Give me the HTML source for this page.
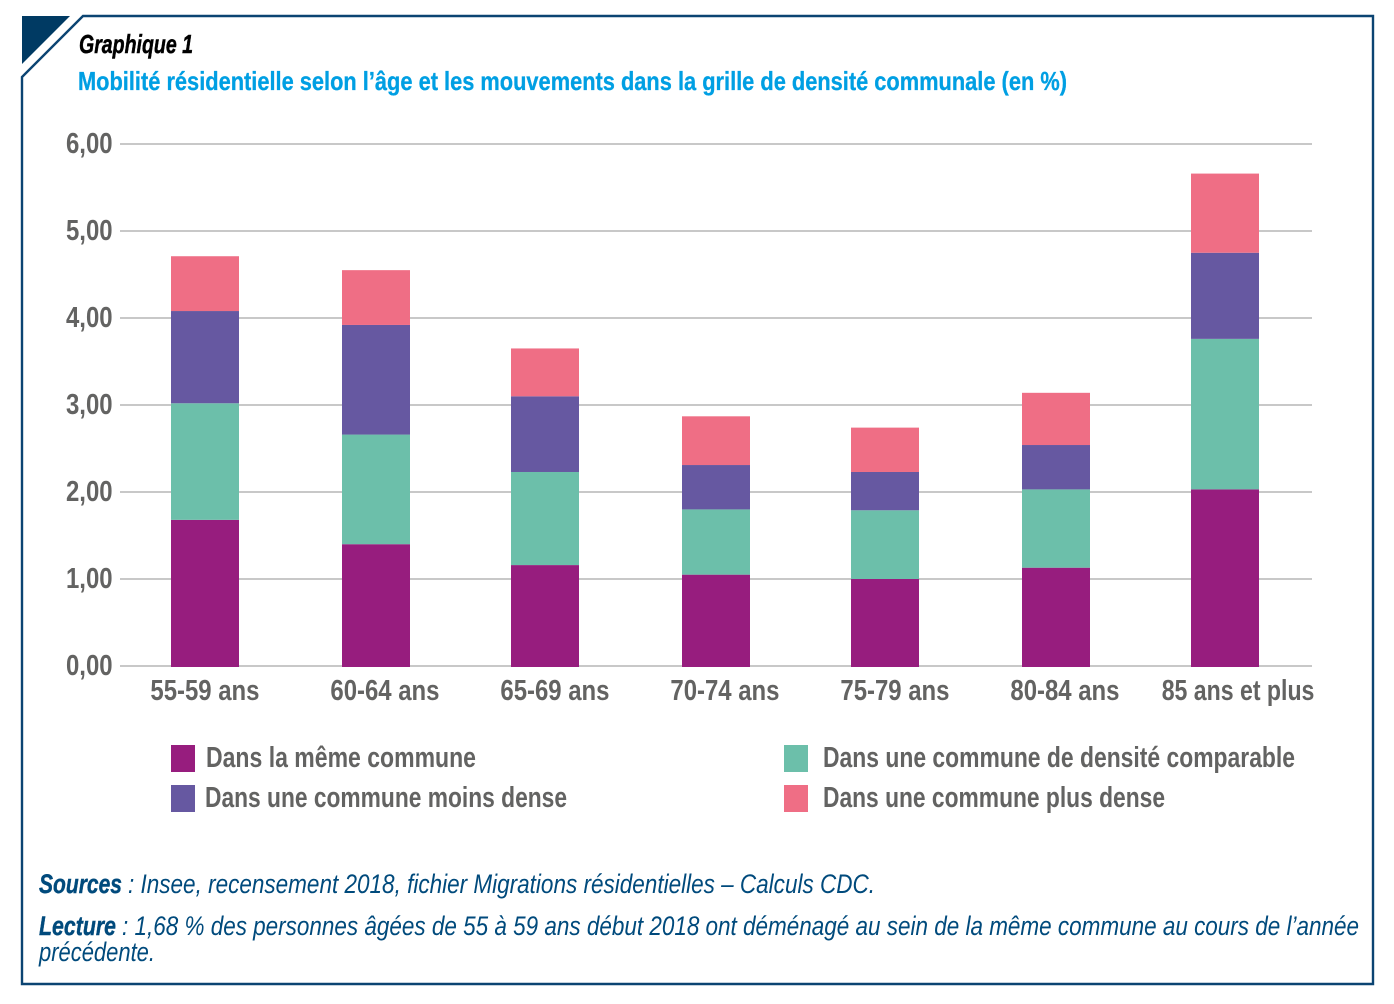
<!DOCTYPE html>
<html lang="fr">
<head>
<meta charset="utf-8">
<title>Graphique 1</title>
<style>
html,body{margin:0;padding:0;background:#fff}
svg{display:block}
text{font-family:"Liberation Sans",Arial,sans-serif}
.t{font-weight:700;fill:#636362;font-size:28.5px}
.n{font-style:italic;fill:#004a7c;font-size:27px}
.b{font-style:italic;font-weight:700;fill:#004a7c;font-size:27px;stroke:#004a7c;stroke-width:.4px}
</style>
</head>
<body>
<svg id="chart" xmlns="http://www.w3.org/2000/svg" width="1394" height="1004" viewBox="0 0 1394 1004">
<polygon points="22,16 70,16 22,64" fill="#003a63"/>
<path d="M83,16 H1373 V984 H22 V77 Z" fill="none" stroke="#0b4472" stroke-width="2.4"/>
<text x="79" y="53" textLength="114" lengthAdjust="spacingAndGlyphs" font-size="26" font-weight="700" font-style="italic" fill="#000" stroke="#000" stroke-width=".5">Graphique 1</text>
<text x="78" y="90" textLength="989" lengthAdjust="spacingAndGlyphs" font-size="26" font-weight="700" fill="#009fe3" stroke="#009fe3" stroke-width=".3">Mobilité résidentielle selon l’âge et les mouvements dans la grille de densité communale (en %)</text>
<g id="grid"></g>
<g id="bars"></g>
<g id="ticks"></g>
<g id="cats"></g>
<g>
<rect x="171" y="745" width="24" height="27" fill="#971d7e"/>
<text class="t" x="206" y="767" textLength="270" lengthAdjust="spacingAndGlyphs">Dans la même commune</text>
<rect x="171" y="785" width="24" height="27" fill="#6658a1"/>
<text class="t" x="205" y="807" textLength="362" lengthAdjust="spacingAndGlyphs">Dans une commune moins dense</text>
<rect x="784" y="745" width="24" height="27" fill="#6cbfaa"/>
<text class="t" x="823" y="767" textLength="472" lengthAdjust="spacingAndGlyphs">Dans une commune de densité comparable</text>
<rect x="784" y="785" width="24" height="27" fill="#ef6e85"/>
<text class="t" x="823" y="807" textLength="342" lengthAdjust="spacingAndGlyphs">Dans une commune plus dense</text>
</g>
<text class="b" x="39" y="893" textLength="83" lengthAdjust="spacingAndGlyphs">Sources</text>
<text class="n" x="128" y="893" textLength="747" lengthAdjust="spacingAndGlyphs">: Insee, recensement 2018, fichier Migrations résidentielles – Calculs CDC.</text>
<text class="b" x="39" y="935" textLength="77" lengthAdjust="spacingAndGlyphs">Lecture</text>
<text class="n" x="122" y="935" textLength="1237" lengthAdjust="spacingAndGlyphs">: 1,68 % des personnes âgées de 55 à 59 ans début 2018 ont déménagé au sein de la même commune au cours de l’année</text>
<text class="n" x="39" y="961" textLength="116" lengthAdjust="spacingAndGlyphs">précédente.</text>
</svg>
<script>
const categories = ["55-59 ans","60-64 ans","65-69 ans","70-74 ans","75-79 ans","80-84 ans","85 ans et plus"];
const memeCommune = [1.68,1.40,1.16,1.05,1.00,1.13,2.03];
const densiteComparable = [1.34,1.26,1.07,0.75,0.79,0.90,1.73];
const moinsDense = [1.06,1.26,0.87,0.51,0.44,0.51,0.99];
const plusDense = [0.63,0.63,0.55,0.56,0.51,0.60,0.91];
const yTicks = [0,1,2,3,4,5,6];
const yTickLabels = ["0,00","1,00","2,00","3,00","4,00","5,00","6,00"];

const NS = "http://www.w3.org/2000/svg";
const yScale = v => 666 - 87 * v;
const xCenter = i => 205 + 170 * i + (i % 2);
const labelCenter = i => i === 0 ? 205 : 215 + 170 * i + (i === categories.length - 1 ? 3 : 0);
const BAR_W = 68;
const NARROW = 0.84;
const NARROW_LONG = 0.81;

function make(parent, tag, attrs) {
  const el = document.createElementNS(NS, tag);
  for (const k in attrs) el.setAttribute(k, attrs[k]);
  document.getElementById(parent).appendChild(el);
  return el;
}
function squeeze(el, k) {
  const w = el.getComputedTextLength() * k;
  el.setAttribute("textLength", w.toFixed(1));
  el.setAttribute("lengthAdjust", "spacingAndGlyphs");
  return w;
}

yTicks.forEach((t, i) => {
  const line = make("grid", "line", {x1: 120, x2: 1312, y1: yScale(t), y2: yScale(t), stroke: "#929292", "stroke-width": 1});
  
  
  const lab = make("ticks", "text", {x: 66, y: yScale(t) + 9, class: "t"});
  
  
  lab.textContent = yTickLabels[i];
  squeeze(lab, NARROW);
});

const stack = [
  {values: memeCommune, fill: "#971d7e"},
  {values: densiteComparable, fill: "#6cbfaa"},
  {values: moinsDense, fill: "#6658a1"},
  {values: plusDense, fill: "#ef6e85"}
];
categories.forEach((c, i) => {
  let base = 0;
  stack.forEach(s => {
    const top = base + s.values[i];
    const r = make("bars", "rect", {
      x: xCenter(i) - BAR_W / 2, y: yScale(top), width: BAR_W,
      height: yScale(base) - yScale(top) + (base === 0 ? 1 : 0), fill: s.fill
    });
    
    
    base = top;
  });
  const lab = make("cats", "text", {y: 700, class: "t"});
  
  
  lab.textContent = c;
  const w = squeeze(lab, c.length > 10 ? NARROW_LONG : NARROW);
  lab.setAttribute("x", (labelCenter(i) - w / 2).toFixed(1));
});
</script>
</body>
</html>
